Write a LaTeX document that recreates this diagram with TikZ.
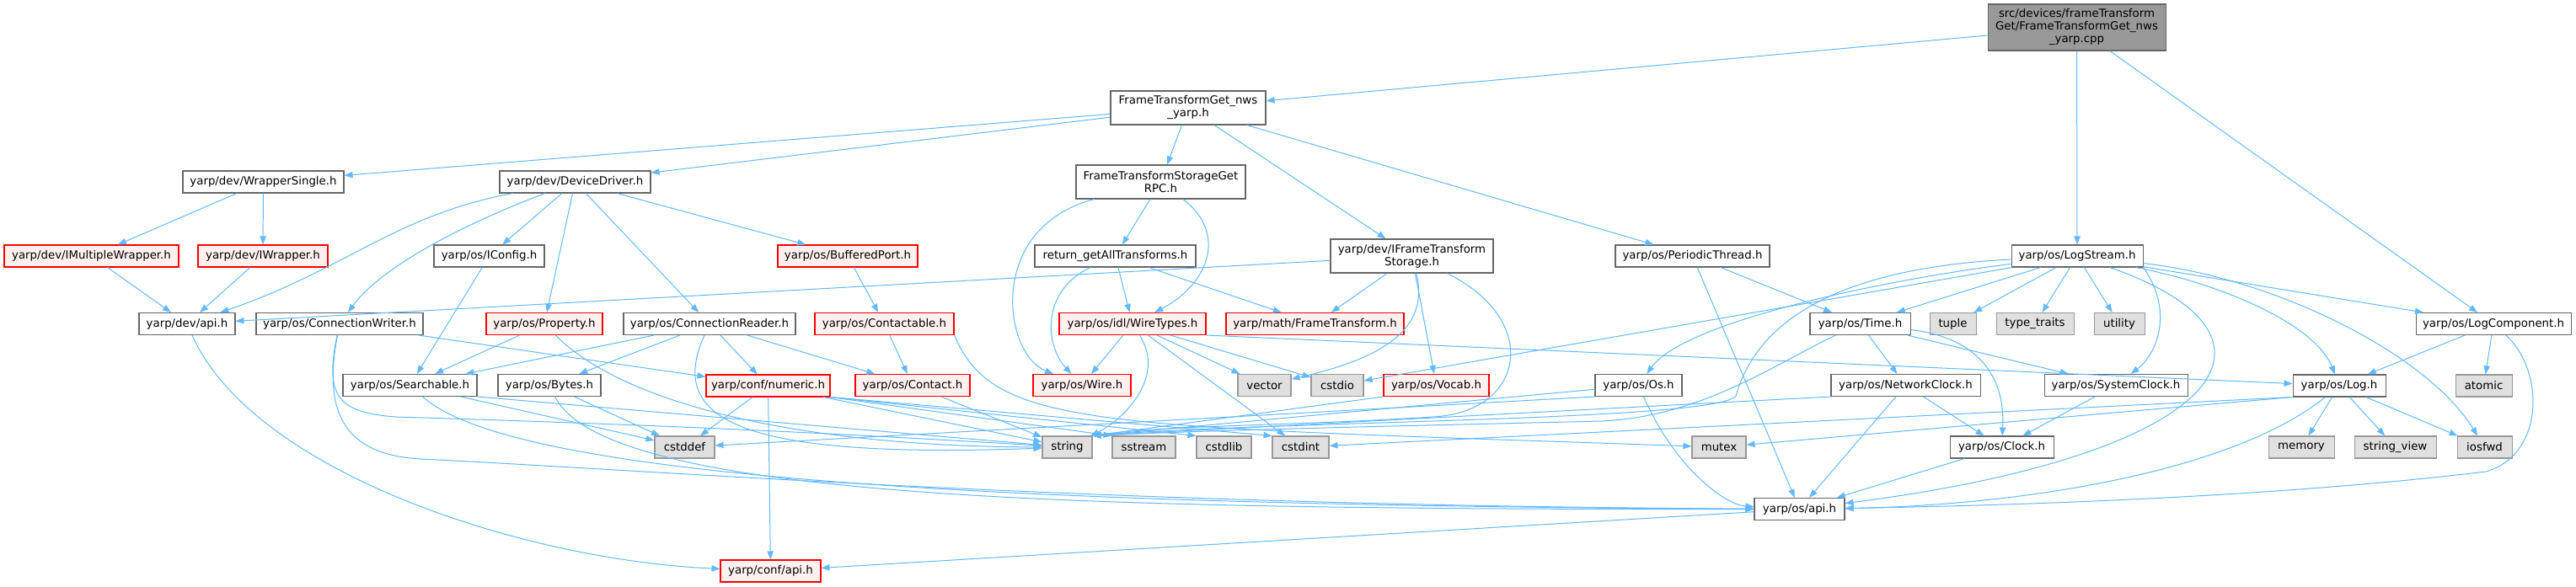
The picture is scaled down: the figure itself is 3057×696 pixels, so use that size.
\documentclass[tikz,border=0pt]{standalone}
\usepackage{fontspec}
\setmainfont{DejaVu Sans}
\usetikzlibrary{arrows.meta}
\definecolor{edgec}{HTML}{63B8FF}
\definecolor{bordc}{HTML}{666666}
\definecolor{sysfill}{HTML}{E0E0E0}
\definecolor{sysbord}{HTML}{999999}
\definecolor{redfill}{HTML}{FFF0F0}
\definecolor{rootfill}{HTML}{999999}
\tikzset{
  nd/.style={draw=bordc, fill=white, line width=0.8pt, inner sep=1pt, minimum height=19.5pt, align=center, text=black},
  trunc/.style={nd, draw=red, fill=redfill},
  sys/.style={nd, draw=sysbord, fill=sysfill},
  rootn/.style={nd, fill=rootfill},
  w/.style={minimum width=#1*0.75pt},
  hh/.style={minimum height=#1*0.75pt},
  lnk/.style={draw=edgec, line width=0.75pt, -{Triangle[length=7.5pt,width=5.5pt]}}
}
\begin{document}
\begin{tikzpicture}[x=0.75pt, y=-0.75pt, font=\fontsize{10pt}{11.25pt}\selectfont]
\useasboundingbox (0,0) rectangle (3057,696);
% nodes
\node[rootn,w=211,hh=55] (root) at (2464.5,32.5) {src/devices/frameTransform\\Get/FrameTransformGet\_nws\\\_yarp.cpp};
\node[nd,w=184,hh=40] (ftget) at (1410,128) {FrameTransformGet\_nws\\\_yarp.h};
\node[nd,w=191] (wrapsingle) at (312.5,216) {yarp/dev/WrapperSingle.h};
\node[nd,w=179] (devdriver) at (682.5,216) {yarp/dev/DeviceDriver.h};
\node[nd,w=201,hh=40] (rpc) at (1377.5,216) {FrameTransformStorageGet\\RPC.h};
\node[trunc,w=207] (imultiple) at (108.5,304) {yarp/dev/IMultipleWrapper.h};
\node[trunc,w=154] (iwrapper) at (312,304) {yarp/dev/IWrapper.h};
\node[nd,w=131] (iconfig) at (580.5,304) {yarp/os/IConfig.h};
\node[trunc,w=166] (buffport) at (1006,304) {yarp/os/BufferedPort.h};
\node[nd,w=191] (retall) at (1323.5,304) {return\_getAllTransforms.h};
\node[nd,w=193,hh=40] (iftstorage) at (1675.5,304) {yarp/dev/IFrameTransform\\Storage.h};
\node[nd,w=183] (periodic) at (2008.5,304) {yarp/os/PeriodicThread.h};
\node[nd,w=156] (logstream) at (2465,304) {yarp/os/LogStream.h};
\node[nd,w=114] (devapi) at (222,384.5) {yarp/dev/api.h};
\node[nd,w=198] (connwriter) at (403,384.5) {yarp/os/ConnectionWriter.h};
\node[trunc,w=138] (property) at (646,384.5) {yarp/os/Property.h};
\node[nd,w=204] (connreader) at (842,384.5) {yarp/os/ConnectionReader.h};
\node[trunc,w=165] (contactable) at (1049.5,384.5) {yarp/os/Contactable.h};
\node[trunc,w=174] (wiretypes) at (1344,384.5) {yarp/os/idl/WireTypes.h};
\node[trunc,w=211] (mathft) at (1560.5,384.5) {yarp/math/FrameTransform.h};
\node[nd,w=119] (time) at (2207.5,384.5) {yarp/os/Time.h};
\node[sys,w=55] (tuple) at (2317.5,384.5) {tuple};
\node[sys,w=92] (typetraits) at (2415,384.5) {type\_traits};
\node[sys,w=60] (utility) at (2515,384.5) {utility};
\node[nd,w=184] (logcomp) at (2959,384.5) {yarp/os/LogComponent.h};
\node[nd,w=159] (searchable) at (486.5,457.5) {yarp/os/Searchable.h};
\node[nd,w=122] (bytes) at (652,457.5) {yarp/os/Bytes.h};
\node[trunc,w=147] (numeric) at (911.5,458) {yarp/conf/numeric.h};
\node[trunc,w=136] (contact) at (1083,457.5) {yarp/os/Contact.h};
\node[trunc,w=116] (wire) at (1284,457.5) {yarp/os/Wire.h};
\node[sys,w=63] (vector) at (1500.5,457.5) {vector};
\node[sys,w=62] (cstdio) at (1587,457.5) {cstdio};
\node[trunc,w=125] (vocab) at (1704.5,457.5) {yarp/os/Vocab.h};
\node[nd,w=103] (os) at (1944.5,457.5) {yarp/os/Os.h};
\node[nd,w=177] (netclock) at (2261.5,457.5) {yarp/os/NetworkClock.h};
\node[nd,w=170] (sysclock) at (2511,457.5) {yarp/os/SystemClock.h};
\node[nd,w=110] (log) at (2776,458) {yarp/os/Log.h};
\node[sys,w=67] (atomic) at (2947.5,458) {atomic};
\node[sys,w=71] (cstddef) at (812.5,531) {cstddef};
\node[sys,w=59] (string) at (1266.5,531) {string};
\node[sys,w=75] (sstream) at (1357.5,531) {sstream};
\node[sys,w=65] (cstdlib) at (1452.5,531) {cstdlib};
\node[sys,w=67] (cstdint) at (1543.5,531) {cstdint};
\node[sys,w=64] (mutex) at (2040,531) {mutex};
\node[nd,w=123] (clock) at (2375.5,531) {yarp/os/Clock.h};
\node[sys,w=78] (memory) at (2731,531) {memory};
\node[sys,w=97] (stringview) at (2842.5,531) {string\_view};
\node[sys,w=65] (iosfwd) at (2948.5,531) {iosfwd};
\node[nd,w=107] (osapi) at (2135.5,604.5) {yarp/os/api.h};
\node[trunc,w=119] (confapi) at (914.5,678) {yarp/conf/api.h};
% edges
\draw[lnk] (root) -- (ftget);
\draw[lnk] (root) -- (logstream);
\draw[lnk] (root) -- (logcomp);
\draw[lnk] (ftget) -- (wrapsingle);
\draw[lnk] (ftget) -- (devdriver);
\draw[lnk] (ftget) -- (rpc);
\draw[lnk] (ftget) -- (iftstorage);
\draw[lnk] (ftget) -- (periodic);
\draw[lnk] (wrapsingle) -- (imultiple);
\draw[lnk] (wrapsingle) -- (iwrapper);
\draw[lnk] (imultiple) -- (devapi);
\draw[lnk] (iwrapper) -- (devapi);
\draw[lnk] (devdriver) .. controls (470,255) and (410,320) .. (devapi);
\draw[lnk] (devdriver) .. controls (540,270) and (450,320) .. (connwriter);
\draw[lnk] (devdriver) -- (iconfig);
\draw[lnk] (devdriver) -- (property);
\draw[lnk] (devdriver) -- (connreader);
\draw[lnk] (devdriver) -- (buffport);
\draw[lnk] (iconfig) -- (searchable);
\draw[lnk] (property) -- (searchable);
\draw[lnk] (property) .. controls (740,480) and (950,530) .. (string);
\draw[lnk] (connwriter) -- (numeric);
\draw[lnk] (connwriter) .. controls (385,470) and (400,490) .. (470,495) .. controls (800,505) and (1000,515) .. (string);
\draw[lnk] (connwriter) .. controls (385,480) and (400,540) .. (500,545) .. controls (800,560) and (1300,600) .. (osapi);
\draw[lnk] (searchable) -- (cstddef);
\draw[lnk] (searchable.south east) -- (string);
\draw[lnk] (searchable) .. controls (600,560) and (1100,600) .. (osapi);
\draw[lnk] (bytes) -- (cstddef);
\draw[lnk] (bytes) .. controls (720,595) and (1300,605) .. (osapi);
\draw[lnk] (connreader) -- (searchable);
\draw[lnk] (connreader) -- (bytes);
\draw[lnk] (connreader) -- (numeric);
\draw[lnk] (connreader) -- (contact);
\draw[lnk] (connreader) .. controls (790,500) and (880,545) .. (string);
\draw[lnk] (numeric) -- (cstddef);
\draw[lnk] (numeric) -- (confapi);
\draw[lnk] (numeric) -- (string);
\draw[lnk] (numeric.south east) -- (sstream.north west);
\draw[lnk] (numeric.south east) -- (cstdlib.north west);
\draw[lnk] (numeric.south east) -- (cstdint.north west);
\draw[lnk] (contact) -- (string);
\draw[lnk] (buffport) -- (contactable);
\draw[lnk] (contactable) -- (contact);
\draw[lnk] (contactable.south east) .. controls (1180,510) and (1300,505) .. (mutex);
\draw[lnk] (devapi) .. controls (300,560) and (620,665) .. (confapi);
\draw[lnk] (rpc) .. controls (1170,270) and (1190,420) .. (wire);
\draw[lnk] (rpc) -- (retall);
\draw[lnk] (rpc) .. controls (1460,280) and (1430,340) .. (wiretypes);
\draw[lnk] (retall) .. controls (1235,345) and (1240,410) .. (wire);
\draw[lnk] (retall) -- (wiretypes);
\draw[lnk] (retall) -- (mathft);
\draw[lnk] (wiretypes) -- (wire);
\draw[lnk] (wiretypes) .. controls (1385,450) and (1330,500) .. (string);
\draw[lnk] (wiretypes) -- (vector);
\draw[lnk] (wiretypes) -- (cstdint);
\draw[lnk] (wiretypes) -- (cstdio);
\draw[lnk] (wiretypes.south east) -- (log);
\draw[lnk] (iftstorage) -- (devapi);
\draw[lnk] (iftstorage) -- (mathft);
\draw[lnk] (iftstorage) .. controls (1700,400) and (1620,430) .. (vector);
\draw[lnk] (iftstorage) -- (vocab);
\draw[lnk] (iftstorage) .. controls (1830,380) and (1810,490) .. (1700,495) .. controls (1550,505) and (1380,505) .. (string.north east);
\draw[lnk] (periodic) -- (osapi);
\draw[lnk] (periodic) -- (time);
\draw[lnk] (logstream) -- (time);
\draw[lnk] (logstream) .. controls (2250,330) and (2000,380) .. (os);
\draw[lnk] (logstream) -- (cstdio);
\draw[lnk] (logstream) .. controls (2150,320) and (2080,400) .. (2060,470) .. controls (2040,500) and (1500,500) .. (string.north east);
\draw[lnk] (logstream) -- (tuple);
\draw[lnk] (logstream) -- (typetraits);
\draw[lnk] (logstream) -- (utility);
\draw[lnk] (logstream) -- (logcomp);
\draw[lnk] (logstream.south east) .. controls (2580,370) and (2560,420) .. (sysclock);
\draw[lnk] (logstream) .. controls (2650,340) and (2750,390) .. (log);
\draw[lnk] (logstream) .. controls (2700,330) and (2880,420) .. (iosfwd);
\draw[lnk] (logstream) .. controls (2740,400) and (2640,540) .. (osapi);
\draw[lnk] (time) -- (netclock);
\draw[lnk] (time) -- (sysclock);
\draw[lnk] (time) .. controls (2340,400) and (2380,440) .. (clock);
\draw[lnk] (time) .. controls (2110,430) and (2020,495) .. (1900,500) .. controls (1700,505) and (1450,510) .. (string.north east);
\draw[lnk] (netclock) -- (clock);
\draw[lnk] (netclock) -- (osapi);
\draw[lnk] (netclock.south west) -- (string.north east);
\draw[lnk] (os) -- (string.north east);
\draw[lnk] (os.south west) -- (cstddef);
\draw[lnk] (os) .. controls (1990,560) and (2050,600) .. (osapi);
\draw[lnk] (vocab.south west) -- (string.north east);
\draw[lnk] (sysclock) -- (clock);
\draw[lnk] (clock) -- (osapi);
\draw[lnk] (log) -- (memory);
\draw[lnk] (log) -- (stringview);
\draw[lnk] (log) -- (iosfwd);
\draw[lnk] (log.south west) -- (cstdint);
\draw[lnk] (log.south west) -- (mutex);
\draw[lnk] (log) .. controls (2650,560) and (2400,600) .. (osapi);
\draw[lnk] (logcomp) -- (log);
\draw[lnk] (logcomp) -- (atomic);
\draw[lnk] (logcomp) .. controls (3020,440) and (3020,540) .. (2950,560) .. controls (2700,590) and (2400,600) .. (osapi);
\draw[lnk] (osapi) -- (confapi);
\end{tikzpicture}
\end{document}
